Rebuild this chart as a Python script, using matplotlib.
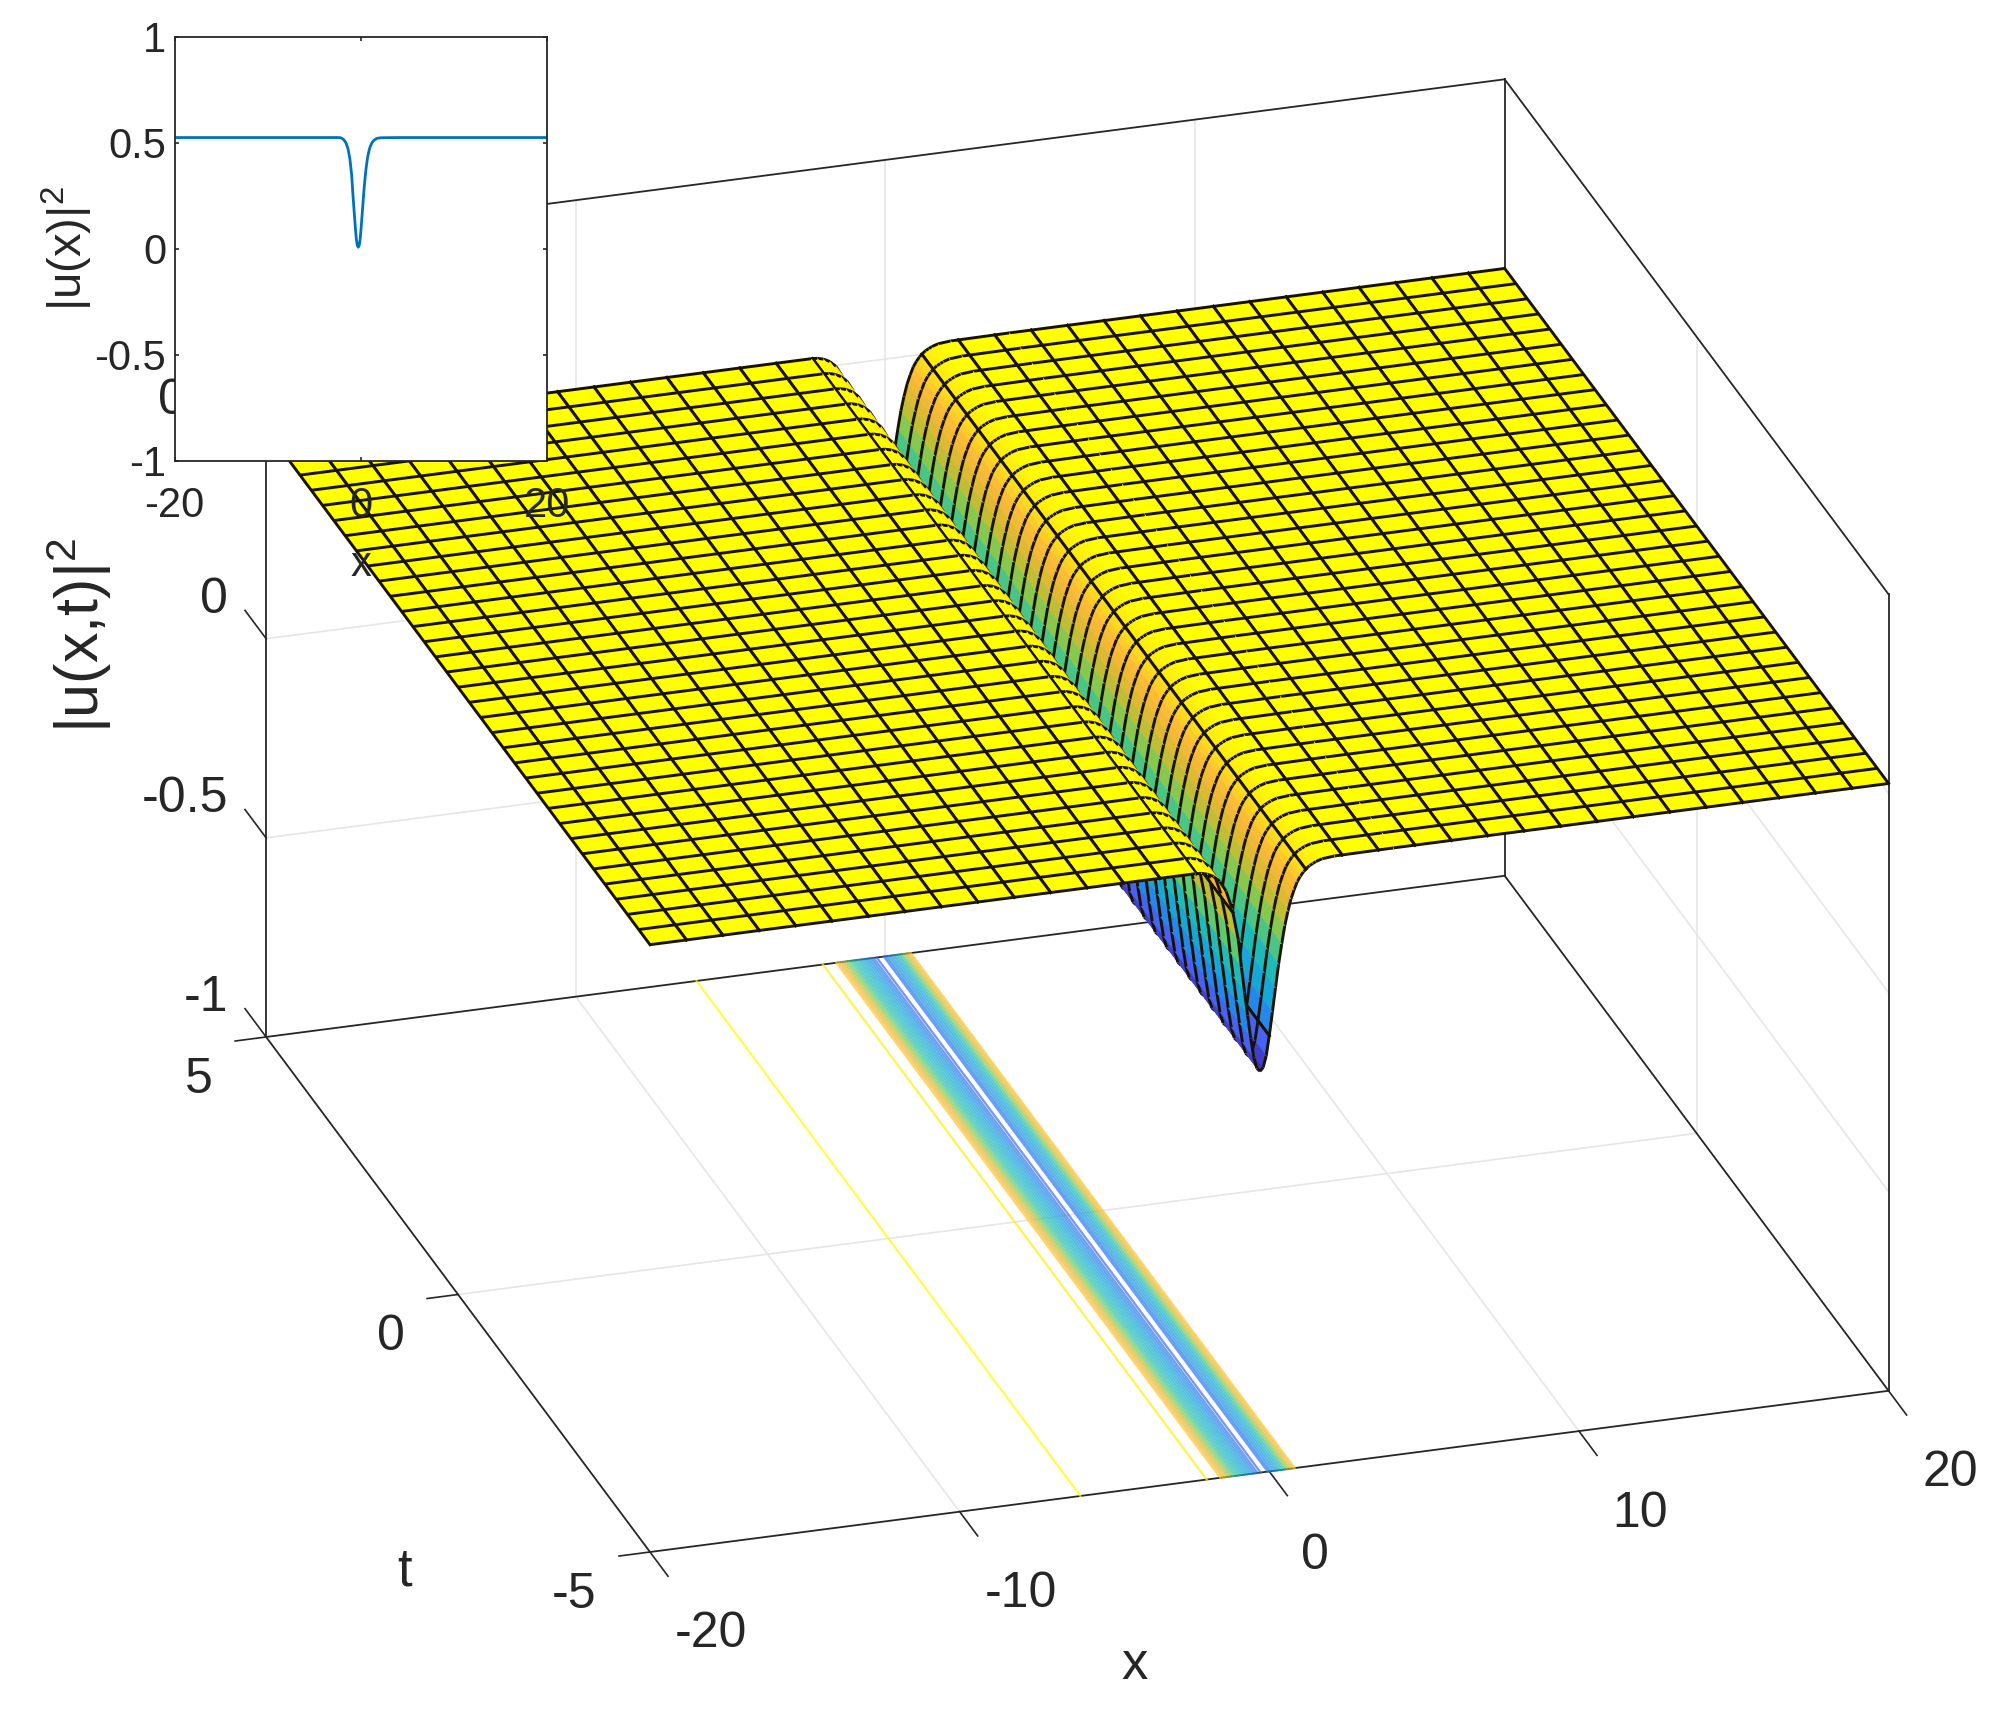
import numpy as np
import matplotlib
matplotlib.use("Agg")
import matplotlib.pyplot as plt
from matplotlib.colors import LinearSegmentedColormap
from mpl_toolkits.mplot3d import proj3d
from mpl_toolkits.mplot3d.art3d import Poly3DCollection, Line3DCollection

plt.rcParams["font.family"] = ["Liberation Sans", "DejaVu Sans"]
plt.rcParams["mathtext.fontset"] = "custom"
plt.rcParams["mathtext.rm"] = "Liberation Sans"
plt.rcParams["mathtext.default"] = "rm"
plt.rcParams["axes.unicode_minus"] = False

# ---------------------------------------------------------------------------
# Data
# ---------------------------------------------------------------------------
# intensity profile across x, the same for every t
profile_x = [-20.0, -2.4, -2.2, -2.0, -1.8, -1.6, -1.4, -1.2, -1.0, -0.9, -0.8, -0.7,
             -0.6, -0.5, -0.4, -0.3, -0.2, -0.1, 0.0, 0.1, 0.2, 0.3, 0.4, 0.5, 0.6, 0.7, 0.8,
             0.9, 1.0, 1.1, 1.2, 1.3, 1.4, 1.5, 1.7, 2.1, 4.0, 20.0]
profile_z = [0.525, 0.525, 0.524, 0.52, 0.512, 0.498, 0.472, 0.425, 0.345, 0.275, 0.212,
             0.152, 0.094, 0.044, 0.016, 0.008, 0.016, 0.044, 0.094, 0.152, 0.212, 0.27, 0.32,
             0.365, 0.40, 0.43, 0.452, 0.471, 0.484, 0.494, 0.502, 0.508, 0.512, 0.516, 0.521,
             0.524, 0.525, 0.525]

# contour lines on the floor: x position and level
contour_x = [-6.1, -2.02, -1.58, -1.50, -1.42, -1.34, -1.26, -1.18, -1.10, -1.02, -0.94, -0.86,
             -0.78, -0.70, -0.62, -0.54, -0.46, -0.38, -0.28, -0.05, 0.03, 0.11, 0.19, 0.27,
             0.35, 0.43, 0.51, 0.59, 0.67, 0.75, 0.82]
contour_z = [0.52, 0.51, 0.47, 0.45, 0.42, 0.38, 0.34, 0.31, 0.28, 0.26, 0.24, 0.22,
             0.20, 0.18, 0.16, 0.14, 0.12, 0.10, 0.08, 0.10, 0.12, 0.14, 0.16, 0.18,
             0.21, 0.25, 0.29, 0.34, 0.39, 0.44, 0.47]

x_ticks = [-20, -10, 0, 10, 20]
t_ticks = [-5, 0, 5]
z_ticks = [-1, -0.5, 0, 0.5, 1]
z_ticklabels = ["-1", "-0.5", "0", "0.5", "1"]

inset_xticks = [-20, 0, 20]
inset_yticks = [-1, -0.5, 0, 0.5, 1]

N_CELLS = 34

parula = LinearSegmentedColormap.from_list("parula", [
    (0.00, "#3e26a8"), (0.14, "#4667f9"), (0.25, "#1f8ee8"), (0.375, "#14adcf"),
    (0.50, "#25bfb0"), (0.625, "#72cc59"), (0.75, "#d0ba2e"), (0.875, "#fcb838"),
    (1.00, "#ffff00"),
])

DARK = "#262626"
MESH = "#1a1200"
GRID = "#e6e6e6"
W, H = 1998, 1709


def px(x, y):
    """Figure fraction of a position given in reference pixels."""
    return x / W, 1 - y / H


# ---------------------------------------------------------------------------
# Main 3D axes
# ---------------------------------------------------------------------------
fig = plt.figure(figsize=(W / 100, H / 100), dpi=100, facecolor="white")
side = 2800
ax = fig.add_axes([(W - side) / 2 / W, (H - side) / 2 / H, side / W, side / H],
                  projection="3d", proj_type="ortho", computed_zorder=False)
ax.view_init(elev=24.7, azim=-107.3)
ax.set_xlim(-20, 20, view_margin=0)
ax.set_ylim(-5, 5, view_margin=0)
ax.set_zlim(-1, 1, view_margin=0)
ax.set_axis_off()

box = (1021, 1016, 690)
ax.set_box_aspect(box, zoom=1)


def corner_px(x, y, z):
    sx, sy, _ = proj3d.proj_transform(x, y, z, ax.get_proj())
    return ax.transData.transform((sx, sy))


def tick_label(x, y, z, label, ha):
    """Place a tick label at a 3D position as plain 2D text."""
    sx, sy, _ = proj3d.proj_transform(x, y, z, ax.get_proj())
    ax.text2D(sx, sy, label, transform=ax.transData, fontsize=36, color=DARK,
              ha=ha, va="center", clip_on=False)


# fit the box onto the reference corners (x=-20,t=-5,z=-1) and (x=20,t=-5,z=-1)
target_a = np.array([650.0, H - 1552.0])
target_b = np.array([1888.0, H - 1386.5])
fig.canvas.draw()
a, b = corner_px(-20, -5, -1), corner_px(20, -5, -1)
ax.set_box_aspect(box, zoom=np.linalg.norm(target_b - target_a) / np.linalg.norm(b - a))
fig.canvas.draw()
a = corner_px(-20, -5, -1)
pos = ax.get_position()
ax.set_position([pos.x0 + (target_a[0] - a[0]) / W, pos.y0 + (target_a[1] - a[1]) / H,
                 pos.width, pos.height])

# grid on the floor and the two back walls
for xt in x_ticks[1:-1]:
    ax.plot([xt, xt], [-5, 5], [-1, -1], color=GRID, lw=1.2, zorder=0.5)
    ax.plot([xt, xt], [5, 5], [-1, 1], color=GRID, lw=1.2, zorder=0.5)
for tt in t_ticks[1:-1]:
    ax.plot([-20, 20], [tt, tt], [-1, -1], color=GRID, lw=1.2, zorder=0.5)
    ax.plot([20, 20], [tt, tt], [-1, 1], color=GRID, lw=1.2, zorder=0.5)
for zt in z_ticks[1:-1]:
    ax.plot([-20, 20], [5, 5], [zt, zt], color=GRID, lw=1.2, zorder=0.5)
    ax.plot([20, 20], [5, -5], [zt, zt], color=GRID, lw=1.2, zorder=0.5)

# edges of the box
box_edges = [([-20, 20], [5, 5], [-1, -1]), ([20, 20], [5, -5], [-1, -1]),
             ([-20, 20], [-5, -5], [-1, -1]), ([-20, -20], [5, -5], [-1, -1]),
             ([-20, 20], [5, 5], [1, 1]), ([20, 20], [5, -5], [1, 1]),
             ([-20, -20], [5, 5], [-1, 1]), ([20, 20], [5, 5], [-1, 1]),
             ([20, 20], [-5, -5], [-1, 1])]
for ex, ey, ez in box_edges:
    ax.plot(ex, ey, ez, color=DARK, lw=1.3, zorder=1)

# tick marks and tick labels
for xt in x_ticks:
    ax.plot([xt, xt], [-5, -5.47], [-1, -1], color=DARK, lw=1.2, zorder=1)
    tick_label(xt - 0.5 if xt == 0 else xt, -6.6, -1, str(xt), "center")
for tt in t_ticks:
    ax.plot([-20, -21], [tt, tt], [-1, -1], color=DARK, lw=1.2, zorder=1)
    tick_label(-21.72, tt, -1.09, str(tt), "right")
for zt, zl in zip(z_ticks, z_ticklabels):
    ax.plot([-20, -20], [5, 5.55], [zt, zt], color=DARK, lw=1.2, zorder=1)
    tick_label(-20, 5.99, zt - 0.03, zl, "right")

# floor contours, drawn below the surface
t_ends = [-5.0, 5.0]
for cx, cz in zip(contour_x, contour_z):
    ax.plot([cx, cx], t_ends, [-1, -1], color=parula(cz / 0.525), lw=1.6, alpha=0.72, zorder=2)

# surface: strips painted from far (x=20) to near (x=-20) with mesh lines on top
x_mesh = np.linspace(-20, 20, N_CELLS + 1)
t_mesh = np.linspace(-5, 5, N_CELLS + 1)
x_nodes = np.unique(np.concatenate([x_mesh, profile_x]))
z_nodes = np.interp(x_nodes, profile_x, profile_z)

order = 10
for i in range(len(x_nodes) - 2, -1, -1):
    x0, x1 = x_nodes[i], x_nodes[i + 1]
    z0, z1 = z_nodes[i], z_nodes[i + 1]
    color = parula(min((z0 + z1) / 2 / 0.525, 1.0))
    strip = Poly3DCollection([[(x0, -5, z0), (x1, -5, z1), (x1, 5, z1), (x0, 5, z0)]],
                             facecolors=[color], edgecolors=[color], linewidths=0.4, zorder=order)
    ax.add_collection3d(strip)
    order += 1
    cross = [[(x0, t, z0), (x1, t, z1)] for t in t_mesh]
    lines = Line3DCollection(cross, colors=MESH, linewidths=2.1, zorder=order)
    ax.add_collection3d(lines)
    order += 1
    for xk in (x0, x1):
        if np.min(np.abs(x_mesh - xk)) < 1e-9:
            ax.plot([xk, xk], t_ends, [np.interp(xk, profile_x, profile_z)] * 2,
                    color=MESH, lw=2.1, zorder=order)
            order += 1

ax.set_xlim(-20, 20, view_margin=0)
ax.set_ylim(-5, 5, view_margin=0)
ax.set_zlim(-1, 1, view_margin=0)

# axis titles
fig.text(*px(1135, 1665), "x", fontsize=38, color=DARK, ha="center", va="center")
fig.text(*px(405, 1572), "t", fontsize=38, color=DARK, ha="center", va="center")
fig.text(*px(79, 635), "|u(x,t)|$^2$", fontsize=44, color=DARK, rotation=90, ha="center", va="center")

# ---------------------------------------------------------------------------
# Inset
# ---------------------------------------------------------------------------
x0, y0 = px(174.7, 461)
inset = fig.add_axes([x0, y0, (547.4 - 174.7) / W, (461 - 36.8) / H], zorder=50)
inset.plot(profile_x, profile_z, color="#0072BD", lw=2)
inset.set_xlim(-20, 20)
inset.set_ylim(-1, 1)
inset.set_xticks(inset_xticks)
inset.set_yticks(inset_yticks)
inset.set_yticklabels(["-1", "-0.5", "0", "0.5", "1"])
inset.tick_params(direction="in", length=3, width=1.2, top=True, right=True,
                  labelsize=30, colors=DARK)
inset.tick_params(axis="x", pad=18)
inset.tick_params(axis="y", pad=6)
for spine in inset.spines.values():
    spine.set_color(DARK)
    spine.set_linewidth(1.3)
inset.set_xlabel("x", fontsize=30, color=DARK, labelpad=14)
inset.set_ylabel("|u(x)|$^2$", fontsize=34, color=DARK)
inset.yaxis.set_label_coords(-0.2146, 0.5)

fig.savefig("out.png", dpi=100)
